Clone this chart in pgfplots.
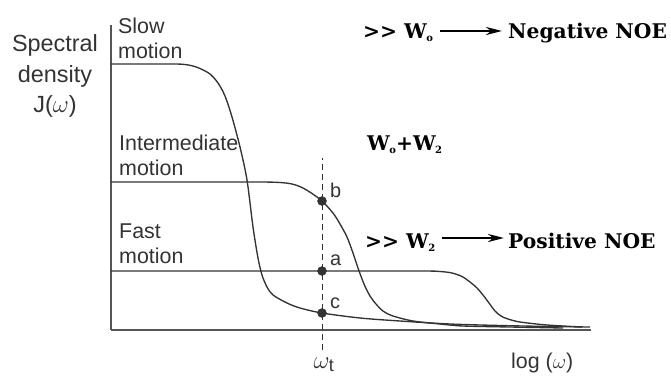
\documentclass[border=0pt]{standalone}
\usepackage{fontspec}
\setmainfont{Liberation Sans}
\newfontfamily\noefont{DejaVu Serif}
\usepackage{pgfplots}
\pgfplotsset{compat=1.18}
\usetikzlibrary{arrows.meta}
\definecolor{curve}{HTML}{333333}
\definecolor{axisgray}{HTML}{555555}
\newcommand{\sub}[1]{\kern-0.5bp\raisebox{-3bp}{\fontsize{10}{10}\selectfont #1}}
\tikzset{noe/.style={anchor=base west, font=\noefont\bfseries\fontsize{20.3}{20.3}\selectfont, inner sep=0}}
\begin{document}
\begin{tikzpicture}
\begin{axis}[
  x=1bp, y=1bp,
  xmin=111, xmax=591, ymin=0, ymax=305,
  axis lines=left,
  axis line style={axisgray, line width=1.5bp, -},
  xtick=\empty, ytick=\empty,
  clip=false,
]
% slow motion
\addplot[curve, line width=1.35bp, smooth] coordinates {
 (111,266) (150,266) (175,266) (185,265.5) (193,264) (200,261.5) (210,256)
 (218,247) (225,234) (232,213) (240,183) (247,150) (253,103) (258,72)
 (262,55) (267,43) (273,35) (287,27) (300,22) (322,17) (360,12) (400,9)
 (450,6) (500,4.5) (550,3.5) (590,3)};
% intermediate motion
\addplot[curve, line width=1.35bp, smooth] coordinates {
 (111,148) (200,148) (260,148) (280,147.5) (292,146) (302,142.5) (312,136.5)
 (322,129) (333,117) (340,106) (347,93) (353,77) (358,62) (364,46) (370,34)
 (376,26) (383,19) (393,14) (413,9) (440,6) (463,4) (510,3) (563,2)};
% fast motion
\addplot[curve, line width=1.35bp, smooth] coordinates {
 (111,59) (300,59) (420,59) (440,58.5) (452,57) (462,53.5) (470,48) (477,42)
 (483,35) (489,27) (495,19) (501,14) (508,11) (520,8) (547,5) (582,3)};
% omega_t marker line and points
\addplot[curve, line width=1bp, dash pattern=on 6bp off 4bp] coordinates {(322,-20) (322,172)};
\addplot[only marks, mark=*, mark size=4.5bp, curve] coordinates {(322,129) (322,59) (322,17)};

\node[anchor=base west, font=\fontsize{20}{20}\selectfont, text=curve, inner sep=0] at (axis cs:330,133) {b};
\node[anchor=base west, font=\fontsize{20}{20}\selectfont, text=curve, inner sep=0] at (axis cs:330,65) {a};
\node[anchor=base west, font=\fontsize{20}{20}\selectfont, text=curve, inner sep=0] at (axis cs:330,22) {c};

% y label
\node[anchor=base, font=\fontsize{23.5}{23.5}\selectfont, text=curve, inner sep=0] at (axis cs:55,279) {Spectral};
\node[anchor=base, font=\fontsize{23.5}{23.5}\selectfont, text=curve, inner sep=0] at (axis cs:55,248) {density};
\node[anchor=base, font=\fontsize{23.5}{23.5}\selectfont, text=curve, inner sep=0] at (axis cs:55,218) {J($\omega$)};

% curve labels
\node[anchor=base west, font=\fontsize{21.5}{21.5}\selectfont, text=curve, inner sep=0] at (axis cs:118,297) {Slow};
\node[anchor=base west, font=\fontsize{21.5}{21.5}\selectfont, text=curve, inner sep=0] at (axis cs:118,272) {motion};
\node[anchor=base west, font=\fontsize{21.5}{21.5}\selectfont, text=curve, inner sep=0] at (axis cs:119,180) {Intermediate};
\node[anchor=base west, font=\fontsize{21.5}{21.5}\selectfont, text=curve, inner sep=0] at (axis cs:119,155) {motion};
\node[anchor=base west, font=\fontsize{21.5}{21.5}\selectfont, text=curve, inner sep=0] at (axis cs:119,92) {Fast};
\node[anchor=base west, font=\fontsize{21.5}{21.5}\selectfont, text=curve, inner sep=0] at (axis cs:119,67) {motion};

% x label and omega_t
\node[anchor=base, font=\fontsize{26}{26}\selectfont, text=curve, inner sep=0] at (axis cs:324,-38) {$\omega_{\mathrm{t}}$};
\node[anchor=base west, font=\fontsize{21.5}{21.5}\selectfont, text=curve, inner sep=0] at (axis cs:511,-38) {log ($\omega$)};

% NOE annotations
\node[noe] at (axis cs:363,292) {>{}> W\sub{o}};
\draw[black, line width=2.8bp, -{Stealth[length=16bp, width=8bp]}] (axis cs:440,299) -- (axis cs:502,299);
\node[noe] at (axis cs:508,292) {Negative NOE};

\node[noe] at (axis cs:367,180) {W\sub{o}+W\sub{2}};

\node[noe] at (axis cs:365,82) {>{}> W\sub{2}};
\draw[black, line width=2.8bp, -{Stealth[length=16bp, width=8bp]}] (axis cs:442,92) -- (axis cs:504,92);
\node[noe] at (axis cs:508,82) {Positive NOE};

\coordinate (bbll) at (axis cs:0,-46);
\coordinate (bbur) at (axis cs:671,330);
\end{axis}
\pgfresetboundingbox
\useasboundingbox (bbll) rectangle (bbur);
\end{tikzpicture}
\end{document}
